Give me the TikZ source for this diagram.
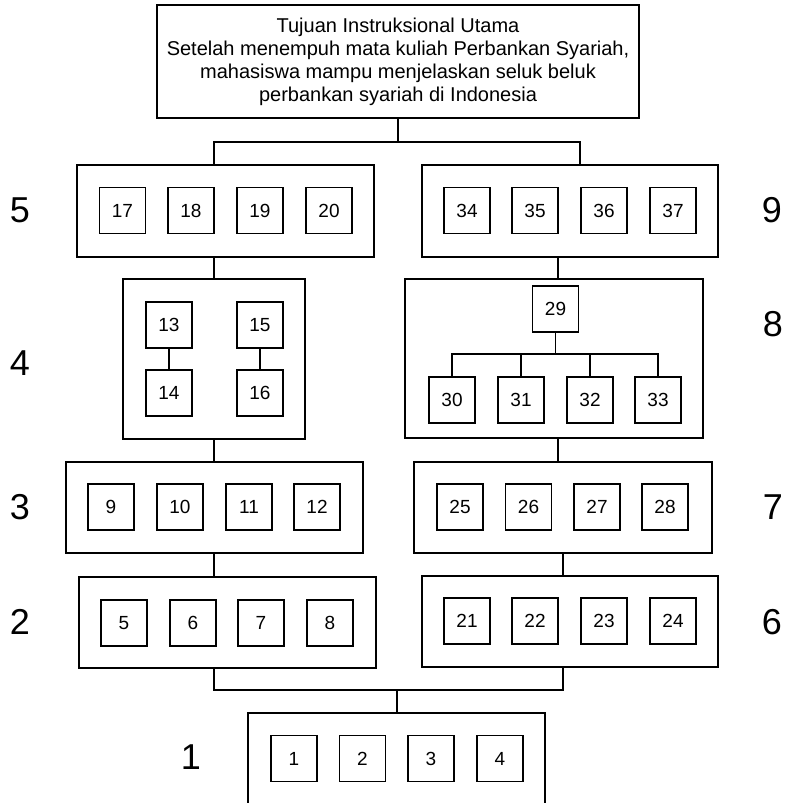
\documentclass[tikz,border=0pt]{standalone}
\usepackage{fontspec}
\setmainfont{Liberation Sans}
\tikzset{
  frame/.style={draw, line width=1.8pt, minimum width=297pt, minimum height=91pt},
  item/.style={draw, line width=1.8pt, minimum width=46pt, minimum height=46pt, font=\fontsize{19}{22}\selectfont},
  lvl/.style={font=\fontsize{36}{40}\selectfont},
  link/.style={line width=1.8pt}
}
\begin{document}
\begin{tikzpicture}[x=1pt,y=-1pt]
\clip (0,0) rectangle (788,803);
\useasboundingbox (0,0) rectangle (788,803);
% main goal
\node[draw, line width=1.8pt, minimum width=482pt, minimum height=113pt, align=center, font=\fontsize{20}{23}\selectfont] (top) at (398,61.5)
  {Tujuan Instruksional Utama\\Setelah menempuh mata kuliah Perbankan Syariah,\\mahasiswa mampu menjelaskan seluk beluk\\perbankan syariah di Indonesia};
% level frames
\node[frame, minimum height=92pt] (r5) at (225.5,211) {};
\node[frame, minimum width=296pt, minimum height=92pt] (r9) at (570,211) {};
\node[frame, minimum width=182pt, minimum height=160pt] (r4) at (214,359) {};
\node[frame, minimum width=298pt, minimum height=159pt] (r8) at (554,358.5) {};
\node[frame] (r3) at (214.5,507.5) {};
\node[frame, minimum width=298pt] (r7) at (563,507.5) {};
\node[frame] (r2) at (227.5,622.5) {};
\node[frame, minimum width=296pt] (r6) at (570,621.5) {};
\node[frame, minimum height=180pt] (r1) at (396.5,803) {};
% level numbers
\node[lvl] (l1) at (191,757) {1};
\node[lvl] (l2) at (20,622) {2};
\node[lvl] (l3) at (20,507) {3};
\node[lvl] (l4) at (20,363) {4};
\node[lvl] (l5) at (20,210) {5};
\node[lvl] (l6) at (772,622) {6};
\node[lvl] (l7) at (773,507) {7};
\node[lvl] (l8) at (773,324) {8};
\node[lvl] (l9) at (772,210) {9};
% items
\foreach \n/\x in {1/294,2/362.5,3/431,4/500} \node[item] (k\n) at (\x,758.5) {\n};
\foreach \n/\x in {5/124,6/193,7/261,8/330} \node[item] (k\n) at (\x,623) {\n};
\foreach \n/\x in {9/111,10/180,11/249,12/317} \node[item] (k\n) at (\x,507) {\n};
\node[item] (k13) at (169,325) {13}; \node[item] (k14) at (169,393) {14};
\node[item] (k15) at (260,325) {15}; \node[item] (k16) at (260,393) {16};
\foreach \n/\x in {17/122.5,18/191,19/260,20/329} \node[item] (k\n) at (\x,210.5) {\n};
\foreach \n/\x in {21/467,22/535,23/604,24/673} \node[item] (k\n) at (\x,621) {\n};
\foreach \n/\x in {25/460,26/528.5,27/597,28/665} \node[item] (k\n) at (\x,507) {\n};
\node[item] (k29) at (555.5,309) {29};
\foreach \n/\x in {30/452,31/521,32/590,33/658} \node[item] (k\n) at (\x,400) {\n};
\foreach \n/\x in {34/467,35/535,36/604,37/673} \node[item] (k\n) at (\x,210.5) {\n};
% connectors
\coordinate (c1) at (214,142);
\coordinate (c2) at (580,142);
\coordinate (c3) at (558,0);
\coordinate (c4) at (397,690);
\coordinate (c5) at (555.5,354);
\draw[link] (top.south) -- (top.south |- c1);
\draw[link] (r5.north -| c1) -- (c1) -- (c2) -- (r9.north -| c2);
\draw[link] (r5.south -| r4.north) -- (r4.north);
\draw[link] (r4.south) -- (r3.north -| r4.south);
\draw[link] (r3.south -| r4.south) -- (r2.north -| r4.south);
\draw[link] (r9.south -| c3) -- (r8.north -| c3);
\draw[link] (r8.south -| c3) -- (r7.north -| c3);
\draw[link] (r7.south) -- (r6.north -| r7.south);
\draw[link] (r2.south -| r4.south) |- (c4);
\draw[link] (r6.south -| r7.south) |- (c4);
\draw[link] (c4) -- (r1.north -| c4);
\draw[link] (k13) -- (k14);
\draw[link] (k15) -- (k16);
\draw[link] (k29) -- (c5);
\foreach \n in {30,31,32,33} \draw[link] (c5) -| (k\n.north);
\end{tikzpicture}
\end{document}
